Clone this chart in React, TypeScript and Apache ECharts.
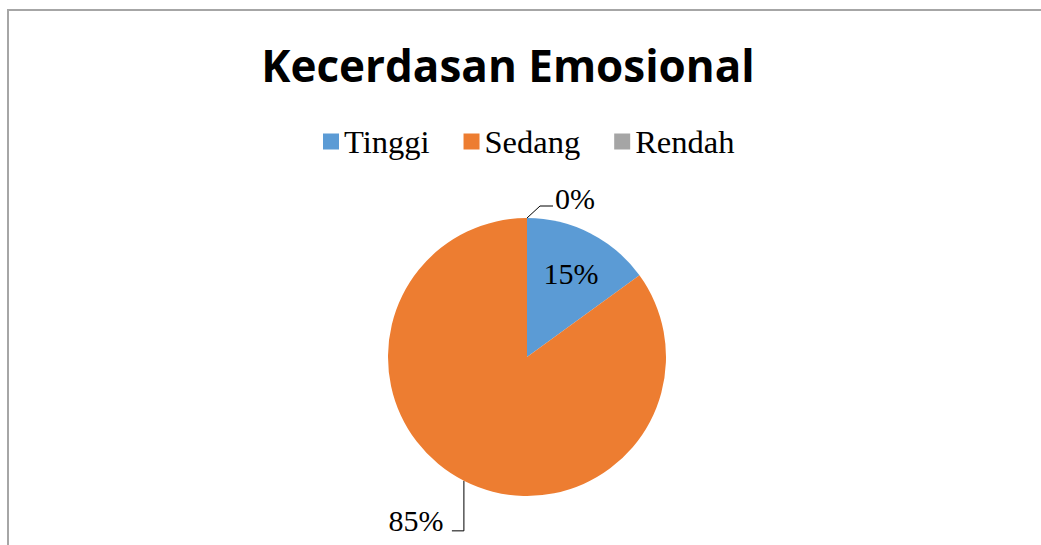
import React, { useEffect, useRef } from "react";
import * as echarts from "echarts";

const titleText = "Kecerdasan Emosional";
const categories = ["Tinggi", "Sedang", "Rendah"];
const values = [15, 85, 0];
const colors = ["#5b9bd5", "#ed7d31", "#a5a5a5"];

export default function App() {
  const ref = useRef<HTMLDivElement>(null);
  useEffect(() => {
    document.body.style.margin = "0";
    const chart = echarts.init(ref.current!, null, { renderer: "svg" });
    const serif = "'Liberation Serif', 'Times New Roman', serif";
    chart.setOption({
      animation: false,
      backgroundColor: "#ffffff",
      title: {
        text: titleText,
        left: 503,
        textAlign: "center",
        top: 38,
        textStyle: {
          fontFamily: "'Open Sans', sans-serif",
          fontWeight: "bold",
          fontSize: 44,
          color: "#000",
        },
      },
      legend: {
        data: categories,
        left: 318,
        top: 120,
        itemWidth: 16,
        itemHeight: 16,
        itemGap: 34,
        icon: "rect",
        textStyle: { fontFamily: serif, fontSize: 32.5, color: "#000" },
      },
      graphic: [
        {
          type: "polyline",
          shape: { points: [[8, 560], [8, 10], [1045, 10]] },
          style: { stroke: "#a6a6a6", lineWidth: 2, fill: "none" },
          silent: true,
        },
      ],
      series: [
        {
          type: "pie",
          center: [527, 357],
          radius: 139,
          startAngle: 90,
          clockwise: true,
          avoidLabelOverlap: false,
          minShowLabelAngle: 0,
          stillShowZeroSum: true,
          label: {
            show: true,
            formatter: "{d}%",
            fontFamily: serif,
            fontSize: 30,
            color: "#000",
          },
          labelLine: {
            show: true,
            lineStyle: { color: "#000", width: 1 },
          },
          data: categories.map((name, i) => ({
            name,
            value: values[i],
            itemStyle: { color: colors[i] },
            label:
              i === 0
                ? { position: "inside" }
                : { position: "outside", distanceToLabelLine: 0 },
            labelLine:
              i === 1 ? { length: 45, length2: 0 } : { length: 20, length2: 28 },
          })),
          labelLayout: (p: any) => {
            if (p.dataIndex === 0) return { dx: 11, dy: -19 };
            const pts = p.labelLinePoints;
            if (!pts || !pts[0]) return {};
            const a = pts[0];
            if (p.dataIndex === 1) {
              return {
                labelLinePoints: [
                  [a[0], a[1]],
                  [a[0], a[1] + 50],
                  [a[0] - 12, a[1] + 50],
                ],
              };
            }
            return {
              labelLinePoints: [
                [a[0], a[1]],
                [a[0] + 13, a[1] - 12],
                [a[0] + 26, a[1] - 12],
              ],
            };
          },
        },
      ],
    });
    return () => chart.dispose();
  }, []);
  return <div ref={ref} style={{ width: 1041, height: 545 }} />;
}
